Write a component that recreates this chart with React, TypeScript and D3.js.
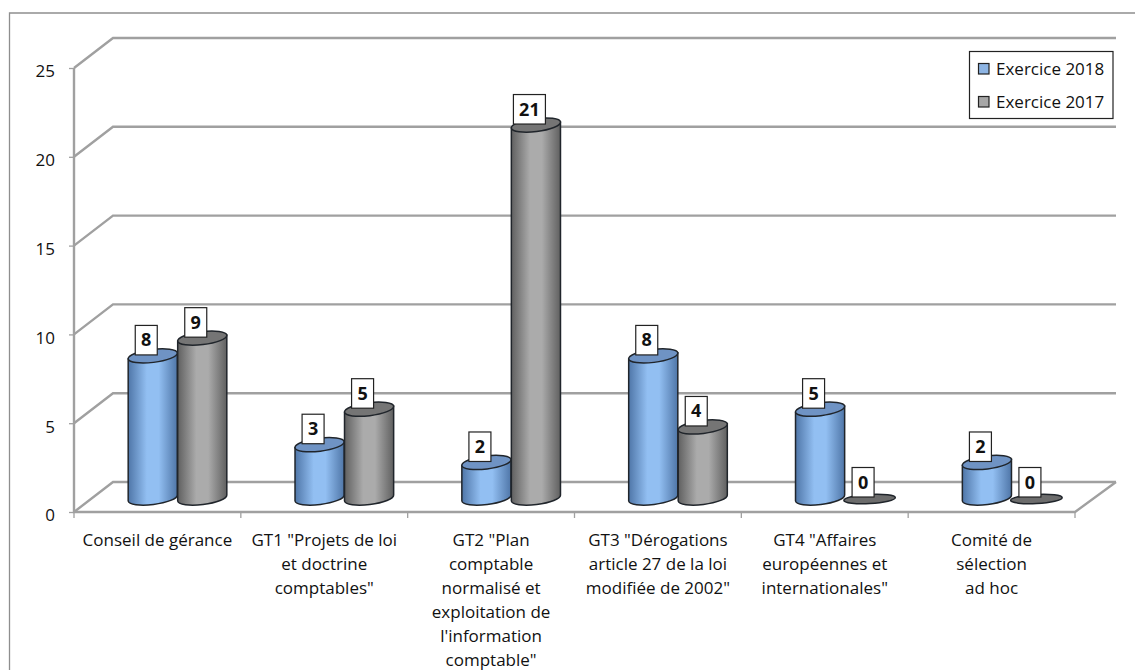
import React, { useEffect, useRef } from "react";
import * as d3 from "d3";

const categories = [
  "Conseil de gérance",
  'GT1 "Projets de loi et doctrine comptables"',
  'GT2 "Plan comptable normalisé et exploitation de l\'information comptable"',
  'GT3 "Dérogations article 27 de la loi modifiée de 2002"',
  'GT4 "Affaires européennes et internationales"',
  "Comité de sélection ad hoc",
];
const categoryLines = [
  ["Conseil de gérance"],
  ['GT1 "Projets de loi', "et doctrine", 'comptables"'],
  ['GT2 "Plan', "comptable", "normalisé et", "exploitation de", "l'information", 'comptable"'],
  ['GT3 "Dérogations', "article 27 de la loi", 'modifiée de 2002"'],
  ['GT4 "Affaires', "européennes et", 'internationales"'],
  ["Comité de", "sélection", "ad hoc"],
];
const seriesNames = ["Exercice 2018", "Exercice 2017"];
const values2018 = [8, 3, 2, 8, 5, 2];
const values2017 = [9, 5, 21, 4, 0, 0];
const yTicks = [0, 5, 10, 15, 20, 25];

const FONT = "'Open Sans', Lato, sans-serif";
const GRID = "#a0a0a0";

const App = () => {
  const svgRef = useRef<SVGSVGElement>(null);

  useEffect(() => {
    const svg = d3.select(svgRef.current);
    svg.selectAll("*").remove();

    const depthX = 39;
    const depthY = 30;
    const x = d3.scaleBand().domain(categories).range([74, 1075]);
    const y = d3.scaleLinear().domain([0, 25]).range([512, 68]);
    const series = d3.scaleBand().domain(seriesNames).range([54, 54 + 99]);
    const rx = series.bandwidth() / 2;
    const ry = 6.5;
    const tilt = 7;
    const dy = rx * Math.sin((tilt * Math.PI) / 180);
    const dx = rx * Math.cos((tilt * Math.PI) / 180);
    const lift = 14; // bars stand 14px behind the front edge of the floor

    const defs = svg.append("defs");
    const grad = (id, edge, mid) => {
      const g = defs.append("linearGradient").attr("id", id);
      g.append("stop").attr("offset", "0%").attr("stop-color", edge);
      g.append("stop").attr("offset", "38%").attr("stop-color", mid);
      g.append("stop").attr("offset", "62%").attr("stop-color", mid);
      g.append("stop").attr("offset", "100%").attr("stop-color", edge);
    };
    grad("blueBody", "#4f76a8", "#92bff2");
    grad("grayBody", "#606060", "#ababab");

    // outer frame, only left and top show
    svg
      .append("path")
      .attr("d", "M9.5,670V13H1135")
      .attr("fill", "none")
      .attr("stroke", "#8e8e8e")
      .attr("stroke-width", 1.3);

    // wall gridlines and floor
    const grid = svg.append("g").attr("fill", "none").attr("stroke", GRID).attr("stroke-width", 2.4);
    yTicks.forEach((t) => {
      grid
        .append("path")
        .attr("d", `M74,${y(t)}L${74 + depthX},${y(t) - depthY}H1116`);
    });
    grid.append("path").attr("d", `M74,${y(25)}V${y(0)}H1075L1116,${y(0) - depthY}`);

    // value axis
    const yAxis = svg
      .append("g")
      .attr("transform", "translate(74,0)")
      .call(d3.axisLeft(y).tickValues(yTicks).tickSize(5).tickPadding(14));
    yAxis.select(".domain").remove();
    yAxis.selectAll("line").attr("stroke", GRID).attr("stroke-width", 1.3);
    yAxis
      .selectAll("text")
      .attr("font-family", FONT)
      .attr("font-size", 17)
      .attr("transform", "translate(0,3.5)")
      .attr("fill", "#111");

    // category ticks
    const tickEdges = [...categories.map((c) => x(c)), x.range()[1]];
    svg
      .append("g")
      .selectAll("line")
      .data(tickEdges)
      .join("line")
      .attr("x1", (d) => d)
      .attr("x2", (d) => d)
      .attr("y1", y(0))
      .attr("y2", y(0) + 6)
      .attr("stroke", GRID)
      .attr("stroke-width", 1.3);

    // category labels
    categories.forEach((c, i) => {
      const t = svg
        .append("text")
        .attr("text-anchor", "middle")
        .attr("font-family", FONT)
        .attr("font-size", 17)
        .attr("fill", "#111");
      categoryLines[i].forEach((line, j) => {
        t.append("tspan")
          .attr("x", x(c) + x.bandwidth() / 2)
          .attr("y", 545.5 + j * 24)
          .text(line);
      });
    });

    // cylinders
    const drawBar = (c, name, v, body, top) => {
      const cx = x(c) + series(name) + rx;
      const base = y(0) - lift;
      const g = svg.append("g").attr("stroke", "#20252b").attr("stroke-width", 1.5);
      if (v === 0) {
        g.append("ellipse")
          .attr("rx", rx + 1)
          .attr("ry", 4.5)
          .attr("transform", `translate(${cx},${base + 1}) rotate(-3)`)
          .attr("fill", "#6c6c6c");
        return;
      }
      const tip = y(v) - lift;
      g.append("path")
        .attr(
          "d",
          `M${cx - dx},${tip + dy}L${cx - dx},${base + dy}` +
            `A${rx},${ry} ${-tilt} 0 0 ${cx + dx},${base - dy}L${cx + dx},${tip - dy}Z`
        )
        .attr("fill", `url(#${body})`);
      g.append("ellipse")
        .attr("rx", rx)
        .attr("ry", ry)
        .attr("transform", `translate(${cx},${tip}) rotate(${-tilt})`)
        .attr("fill", top);
    };
    categories.forEach((c, i) => {
      drawBar(c, seriesNames[0], values2018[i], "blueBody", "#6f93c4");
      drawBar(c, seriesNames[1], values2017[i], "grayBody", "#757575");
    });

    // value labels, on top of every bar
    const drawLabel = (c, name, v) => {
      const cx = x(c) + series(name) + rx - 6.5;
      const w = v >= 10 ? 32 : 22;
      const bottom = y(v) - lift - 1;
      svg
        .append("rect")
        .attr("x", cx - w / 2)
        .attr("y", bottom - 29.5)
        .attr("width", w)
        .attr("height", 29.5)
        .attr("fill", "#fff")
        .attr("stroke", "#222")
        .attr("stroke-width", 1.2);
      svg
        .append("text")
        .attr("x", cx)
        .attr("y", bottom - 8.5)
        .attr("text-anchor", "middle")
        .attr("font-family", FONT)
        .attr("font-size", 18)
        .attr("font-weight", 700)
        .attr("fill", "#111")
        .text(v);
    };
    categories.forEach((c, i) => {
      drawLabel(c, seriesNames[0], values2018[i]);
      drawLabel(c, seriesNames[1], values2017[i]);
    });

    // legend
    const legend = svg.append("g");
    legend
      .append("rect")
      .attr("x", 969.5)
      .attr("y", 51.5)
      .attr("width", 143.5)
      .attr("height", 67)
      .attr("fill", "#fff")
      .attr("stroke", "#222")
      .attr("stroke-width", 1.2);
    seriesNames.forEach((name, i) => {
      legend
        .append("rect")
        .attr("x", 978.5)
        .attr("y", 63.5 + i * 33)
        .attr("width", 10.5)
        .attr("height", 10.5)
        .attr("fill", i === 0 ? "#8db4e3" : "#a6a6a6")
        .attr("stroke", "#222")
        .attr("stroke-width", 1.2);
      legend
        .append("text")
        .attr("x", 996)
        .attr("y", 74.5 + i * 33)
        .attr("font-family", FONT)
        .attr("font-size", 17)
        .attr("fill", "#111")
        .text(name);
    });
  }, []);

  return (
    <svg
      ref={svgRef}
      width={1135}
      height={670}
      style={{ position: "absolute", left: 0, top: 0, display: "block", background: "#fff" }}
    />
  );
};

export default App;
